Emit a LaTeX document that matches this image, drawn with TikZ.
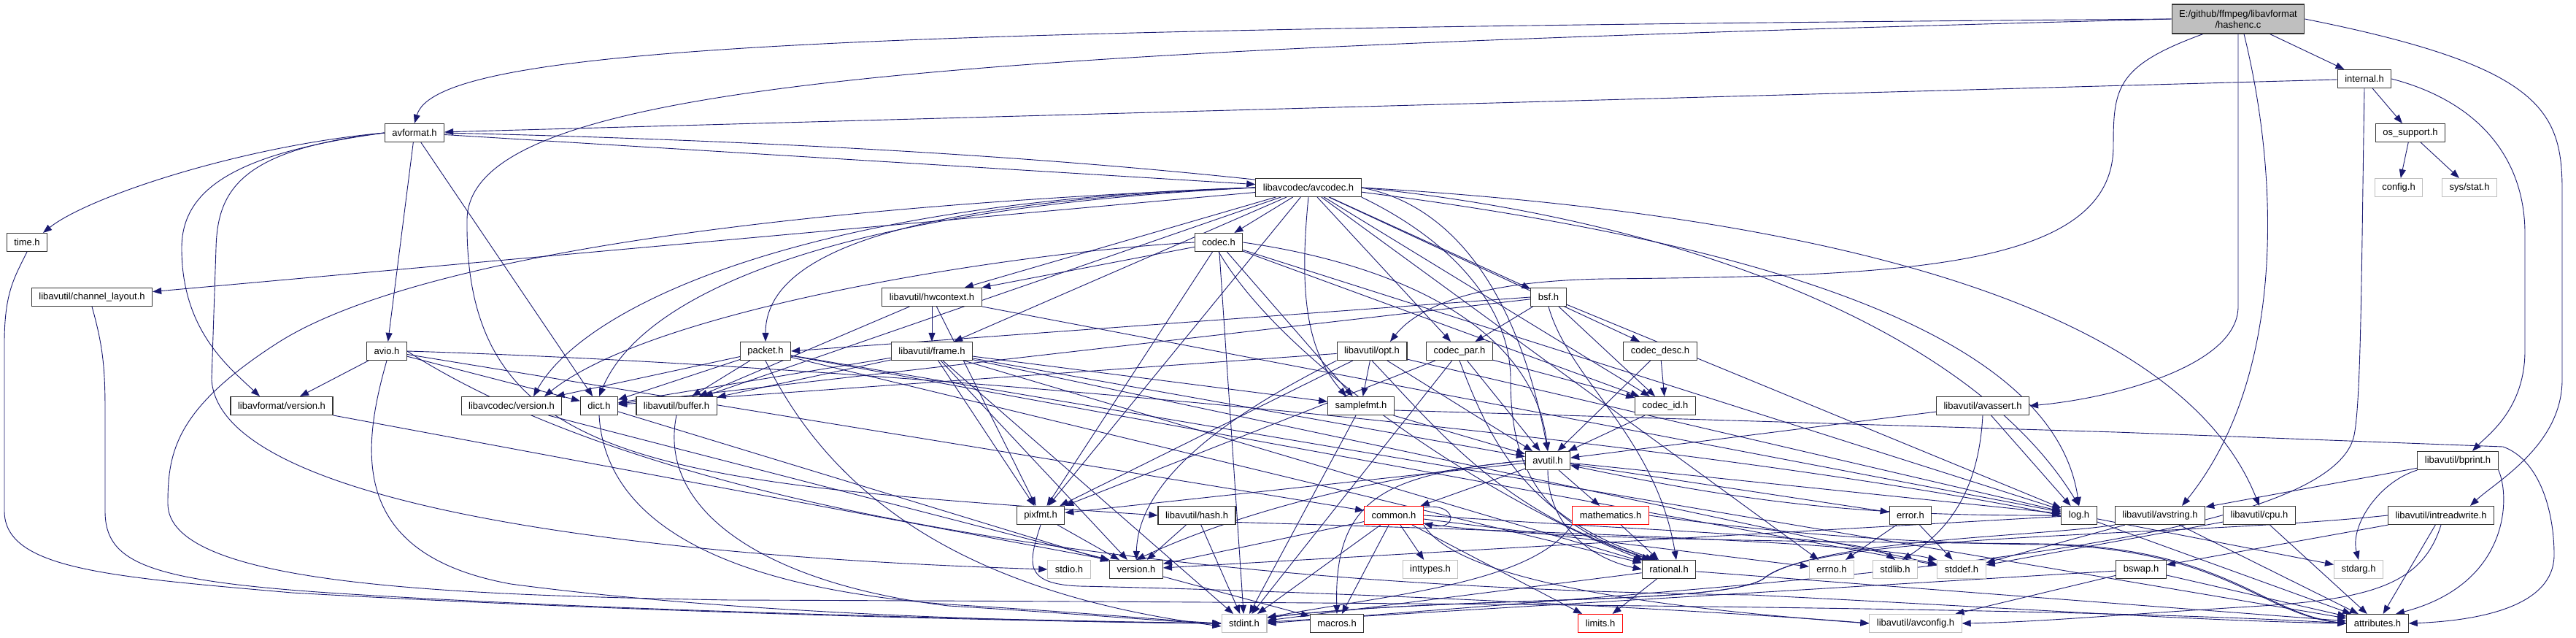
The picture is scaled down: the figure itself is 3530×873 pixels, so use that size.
\documentclass[tikz,border=0pt]{standalone}
\usepackage{fontspec}
\setmainfont{Liberation Sans}
\usetikzlibrary{arrows.meta}
\definecolor{edgeblue}{RGB}{25,25,112}
\definecolor{boxgray}{RGB}{191,191,191}
\pgfdeclarelayer{canvasbg}
\pgfdeclarelayer{edges}
\pgfsetlayers{canvasbg,edges,main}
\tikzset{
  hdr/.style={draw=black!80,fill=white,line width=1.1pt,minimum height=25pt,inner xsep=10pt,inner ysep=2pt,font=\fontsize{13}{15}\selectfont},
  syshdr/.style={hdr,draw=boxgray},
  cuthdr/.style={hdr,draw=red},
  srchdr/.style={hdr,fill=boxgray,align=center,minimum height=40pt},
  dep/.style={edgeblue,line width=0.9pt,-{Triangle[length=12pt,width=9pt]}},
}
\begin{document}
\begin{tikzpicture}[x=1pt,y=-1pt]
\begin{pgfonlayer}{canvasbg}
\path[use as bounding box,fill=white] (0,0) rectangle (3530,873);
\end{pgfonlayer}
\node[srchdr] at (3067,26) (hashenc) {E:/github/ffmpeg/libavformat\\/hashenc.c};
\node[hdr] at (568,182) (avformat) {avformat.h};
\node[hdr] at (3240,108) (internal) {internal.h};
\node[hdr] at (1793,257) (avcodec) {libavcodec/avcodec.h};
\node[hdr] at (3303,182) (ossupport) {os\_support.h};
\node[syshdr] at (3287,257) (config) {config.h};
\node[syshdr] at (3384,257) (sysstat) {sys/stat.h};
\node[hdr] at (37,332) (time) {time.h};
\node[hdr] at (1670,332) (codec) {codec.h};
\node[hdr] at (126,407) (chlayout) {libavutil/channel\_layout.h};
\node[hdr] at (1277,407) (hwcontext) {libavutil/hwcontext.h};
\node[hdr] at (2122,407) (bsf) {bsf.h};
\node[hdr] at (530,481) (avio) {avio.h};
\node[hdr] at (1049,481) (packet) {packet.h};
\node[hdr] at (1277,481) (frame) {libavutil/frame.h};
\node[hdr] at (1880,481) (opt) {libavutil/opt.h};
\node[hdr] at (2000,481) (codecpar) {codec\_par.h};
\node[hdr] at (2275,481) (codecdesc) {codec\_desc.h};
\node[hdr] at (386,556) (lavfversion) {libavformat/version.h};
\node[hdr] at (701,556) (lavcversion) {libavcodec/version.h};
\node[hdr] at (821,556) (dict) {dict.h};
\node[hdr] at (927,556) (buffer) {libavutil/buffer.h};
\node[hdr] at (1865,556) (samplefmt) {samplefmt.h};
\node[hdr] at (2282,556) (codecid) {codec\_id.h};
\node[hdr] at (2717,556) (avassert) {libavutil/avassert.h};
\node[hdr] at (2121,631) (avutil) {avutil.h};
\node[hdr] at (3368,631) (bprint) {libavutil/bprint.h};
\node[hdr] at (1426,706) (pixfmt) {pixfmt.h};
\node[hdr] at (1640,706) (hash) {libavutil/hash.h};
\node[cuthdr] at (1910,706) (common) {common.h};
\node[cuthdr] at (2207,706) (mathematics) {mathematics.h};
\node[hdr] at (2618,706) (error) {error.h};
\node[hdr] at (2849,706) (log) {log.h};
\node[hdr] at (2960,706) (avstring) {libavutil/avstring.h};
\node[hdr] at (3096,706) (cpu) {libavutil/cpu.h};
\node[hdr] at (3345,706) (intreadwrite) {libavutil/intreadwrite.h};
\node[syshdr] at (1465,780) (stdio) {stdio.h};
\node[hdr] at (1557,780) (version) {version.h};
\node[syshdr] at (1960,780) (inttypes) {inttypes.h};
\node[hdr] at (2287,780) (rational) {rational.h};
\node[syshdr] at (2510,780) (errno) {errno.h};
\node[syshdr] at (2597,780) (stdlib) {stdlib.h};
\node[syshdr] at (2688,780) (stddef) {stddef.h};
\node[hdr] at (2934,780) (bswap) {bswap.h};
\node[syshdr] at (3232,780) (stdarg) {stdarg.h};
\node[syshdr] at (1705,854) (stdint) {stdint.h};
\node[hdr] at (1832,854) (macros) {macros.h};
\node[cuthdr] at (2193,854) (limits) {limits.h};
\node[syshdr] at (2625,854) (avconfig) {libavutil/avconfig.h};
\node[hdr] at (3258,854) (attributes) {attributes.h};
\begin{pgfonlayer}{edges}
\draw[dep] (hashenc.west) .. controls (1200,40) and (600,60) .. (avformat.north);
\draw[dep] (hashenc.west) .. controls (1300,70) and (645,110) .. (640,300) .. controls (636,640) and (900,660) .. (hash.west);
\draw[dep] (hashenc) -- (internal);
\draw[dep] (hashenc.south) -- (3067,420) .. controls (3067,500) and (2900,545) .. (avassert.east);
\draw[dep] ([xshift=8pt]hashenc.south) .. controls (3125,250) and (3130,520) .. ([xshift=30pt]avstring.north);
\draw[dep] (hashenc.east) .. controls (3480,90) and (3511,150) .. (3511,260) -- (3511,520) .. controls (3511,610) and (3420,660) .. ([xshift=40pt]intreadwrite.north);
\draw[dep] ([xshift=-48pt]hashenc.south) .. controls (2900,90) and (2896,120) .. (2896,200) .. controls (2896,370) and (2600,378) .. (2200,382) .. controls (2000,385) and (1935,430) .. ([xshift=25pt]opt.north);
\draw[dep] (internal) -- (avformat);
\draw[dep] (internal) -- (ossupport);
\draw[dep] (internal.east) .. controls (3400,140) and (3460,220) .. (3460,320) -- (3460,480) .. controls (3460,560) and (3410,595) .. ([xshift=20pt]bprint.north);
\draw[dep] (internal.south) .. controls (3236,350) and (3236,560) .. (3225,600) .. controls (3180,760) and (2400,800) .. (stdint.east);
\draw[dep] (ossupport) -- (config);
\draw[dep] (ossupport) -- (sysstat);
\draw[dep] (avformat) -- (avcodec);
\draw[dep] (avformat.west) .. controls (330,200) and (120,270) .. ([xshift=22pt]time.north);
\draw[dep] (avformat.west) .. controls (330,205) and (298,260) .. (296,340) -- (290,520) .. controls (300,680) and (800,760) .. (stdio.west);
\draw[dep] (avformat.west) .. controls (320,210) and (249,260) .. (249,340) .. controls (249,450) and (310,500) .. ([xshift=-30pt]lavfversion.north);
\draw[dep] (avformat) -- (dict);
\draw[dep] (avformat) -- (avio);
\draw[dep] (avformat.east) .. controls (2000,215) and (2800,360) .. (log.north);
\draw[dep] (avcodec) -- (chlayout);
\draw[dep] (avcodec) -- (hwcontext);
\draw[dep] (avcodec) -- (codec);
\draw[dep] (avcodec.west) .. controls (1300,275) and (1049,330) .. (packet.north);
\draw[dep] (avcodec.west) .. controls (1100,275) and (800,420) .. ([xshift=30pt]lavcversion.north);
\draw[dep] (avcodec.west) .. controls (1150,285) and (880,400) .. (dict.north);
\draw[dep] (avcodec) -- (buffer);
\draw[dep] (avcodec) -- (frame);
\draw[dep] (avcodec) -- (pixfmt);
\draw[dep] (avcodec.south) .. controls (1780,400) and (1790,480) .. ([xshift=-20pt]samplefmt.north);
\draw[dep] (avcodec) -- (codecpar);
\draw[dep] (avcodec) -- (bsf);
\draw[dep] (avcodec) -- (codecdesc);
\draw[dep] (avcodec) -- (codecid);
\draw[dep] (avcodec.east) .. controls (1990,280) and (2080,400) .. (avutil.north);
\draw[dep] (avcodec.south east) .. controls (1990,330) and (2070,420) .. (2070,520) .. controls (2070,640) and (2110,720) .. ([xshift=-20pt]rational.north);
\draw[dep] (avcodec) -- (errno);
\draw[dep] (avcodec.east) .. controls (2300,300) and (2700,450) .. (log.north);
\draw[dep] (avcodec.east) .. controls (2600,300) and (3000,450) .. (cpu.north);
\draw[dep] (avcodec.west) .. controls (900,290) and (520,380) .. (380,470) .. controls (240,560) and (230,620) .. (230,690) .. controls (230,800) and (600,815) .. (1000,822) .. controls (2200,826) and (2900,835) .. (attributes.west);
\draw[dep] (codec) -- (hwcontext);
\draw[dep] (codec.west) .. controls (1400,345) and (900,420) .. ([xshift=45pt]lavcversion.north);
\draw[dep] (codec) -- (pixfmt);
\draw[dep] (codec) -- (samplefmt);
\draw[dep] (codec) -- (codecid);
\draw[dep] (codec.east) .. controls (1900,360) and (2100,440) .. (avutil.north);
\draw[dep] (codec.south) .. controls (1760,500) and (2050,690) .. ([xshift=-35pt]rational.north);
\draw[dep] (codec) -- (log);
\draw[dep] (codec) -- (stdint);
\draw[dep] (hwcontext) -- (frame);
\draw[dep] (hwcontext) -- (buffer);
\draw[dep] (hwcontext) -- (pixfmt);
\draw[dep] (hwcontext) -- (log);
\draw[dep] (bsf.west) -- (packet.east);
\draw[dep] (bsf) -- (dict);
\draw[dep] (bsf) -- (codecpar);
\draw[dep] (bsf) -- (codecid);
\draw[dep] (bsf.south) .. controls (2150,520) and (2270,600) .. ([xshift=10pt]rational.north);
\draw[dep] (bsf) -- (log);
\draw[dep] (avio) -- (lavfversion);
\draw[dep] (avio) -- (dict);
\draw[dep] (avio) -- (common);
\draw[dep] (avio.east) .. controls (1200,500) and (2300,600) .. (log.west);
\draw[dep] (avio.east) .. controls (900,700) and (1600,805) .. (2400,815) .. controls (2800,835) and (3000,850) .. (attributes.west);
\draw[dep] (avio.south) .. controls (494,620) and (480,760) .. (700,800) .. controls (1000,840) and (1400,852) .. (stdint.west);
\draw[dep] (lavfversion) -- (version.north west);
\draw[dep] (packet) -- (lavcversion);
\draw[dep] (packet) -- (dict);
\draw[dep] (packet) -- (buffer);
\draw[dep] (packet) -- (rational);
\draw[dep] (packet) -- (stddef);
\draw[dep] (packet.south) .. controls (1150,700) and (1350,815) .. ([yshift=-4pt]stdint.west);
\draw[dep] (packet) -- (attributes);
\draw[dep] (lavcversion) -- (version.north west);
\draw[dep] (dict) -- (version);
\draw[dep] (dict.south) .. controls (830,720) and (1000,805) .. (1300,828) .. controls (1500,840) and (1600,850) .. (stdint.west);
\draw[dep] (buffer.south) .. controls (900,700) and (1050,800) .. (1300,830) .. controls (1500,842) and (1600,852) .. (stdint.west);
\draw[dep] (frame) -- (dict);
\draw[dep] (frame) -- (buffer);
\draw[dep] (frame) -- (pixfmt);
\draw[dep] (frame) -- (samplefmt);
\draw[dep] (frame) -- (avutil);
\draw[dep] (frame) -- (rational);
\draw[dep] (frame) -- (version);
\draw[dep] (frame) -- (stddef);
\draw[dep] (frame) -- (stdint);
\draw[dep] (opt) -- (samplefmt);
\draw[dep] (opt) -- (dict);
\draw[dep] (opt) -- (pixfmt);
\draw[dep] (opt) -- (avutil);
\draw[dep] (opt.south) .. controls (1980,600) and (2060,700) .. ([xshift=-25pt]rational.north);
\draw[dep] (opt) -- (log);
\draw[dep] (opt.south west) .. controls (1700,560) and (1560,650) .. (version.north);
\draw[dep] (codecpar) -- (codecid);
\draw[dep] (codecpar) -- (avutil);
\draw[dep] (codecpar) -- (pixfmt);
\draw[dep] (codecpar.south) .. controls (2040,600) and (2090,710) .. ([xshift=-15pt]rational.north);
\draw[dep] (codecpar) -- (stdint);
\draw[dep] (codecdesc) -- (codecid);
\draw[dep] (codecdesc) -- (avutil);
\draw[dep] (samplefmt) -- (avutil);
\draw[dep] (samplefmt) -- (stdint);
\draw[dep] ([yshift=-6pt]samplefmt.east) -- (2900,592) -- (3430,612) .. controls (3480,630) and (3500,700) .. (3500,760) .. controls (3500,830) and (3400,850) .. (attributes.east);
\draw[dep] (codecid) -- (avutil);
\draw[dep] (avassert) -- (avutil);
\draw[dep] (avassert) -- (log);
\draw[dep] (avassert.south) .. controls (2712,660) and (2680,720) .. ([xshift=10pt]stdlib.north);
\draw[dep] (avutil) -- (common);
\draw[dep] (avutil) -- (mathematics);
\draw[dep] (avutil.south) .. controls (2121,720) and (2180,765) .. (rational.west);
\draw[dep] (avutil) -- (error);
\draw[dep] (avutil) -- (log);
\draw[dep] (avutil) -- (pixfmt);
\draw[dep] (avutil.west) .. controls (1900,650) and (1700,700) .. (version.north);
\draw[dep] (avutil.west) .. controls (1900,650) and (1828,680) .. (macros.north);
\draw[dep] (bprint) -- (avstring);
\draw[dep] (bprint.south west) .. controls (3260,660) and (3220,720) .. (stdarg.north);
\draw[dep] (bprint.south east) .. controls (3440,680) and (3440,800) .. ([xshift=25pt]attributes.north);
\draw[dep] (pixfmt) -- (version);
\draw[dep] (pixfmt.south) .. controls (1410,770) and (1400,800) .. (1480,803) .. controls (1900,812) and (2400,840) .. (avconfig.west);
\draw[dep] (hash) -- (version);
\draw[dep] (hash) -- (stdint);
\draw[dep] (hash.-10) .. controls (2200,730) and (2560,745) .. (stddef.north west);
\draw[dep] (common) -- (inttypes);
\draw[dep] (common) -- (macros);
\draw[dep] (common) -- (limits);
\draw[dep] (common) -- (version);
\draw[dep] (common) -- (stdint);
\draw[dep] (common) -- (errno);
\draw[dep] (common.east) .. controls (2300,730) and (2550,735) .. (stdlib.north);
\draw[dep] (common.-15) .. controls (2100,740) and (2500,742) .. (2800,745) .. controls (3050,750) and (3100,840) .. (attributes.west);
\draw[dep] (common.south east) .. controls (2000,800) and (2300,835) .. (avconfig.west);
\draw[dep] (common.15) .. controls (1998,688) and (1998,728) .. (common.-15);
\draw[dep] (mathematics) -- (rational);
\draw[dep] (mathematics.south west) .. controls (2100,800) and (1900,815) .. ([yshift=8pt]stdint.east);
\draw[dep] (mathematics.east) .. controls (2500,740) and (2700,745) .. (2800,746) .. controls (3050,752) and (3100,842) .. (attributes.west);
\draw[dep] (error) -- (errno);
\draw[dep] (error) -- (stddef);
\draw[dep] (log) to[bend left=6] (avutil);
\draw[dep] (log) -- (stdarg);
\draw[dep] (log) -- (attributes);
\draw[dep] (log) -- (version);
\draw[dep] (avstring) -- (stddef);
\draw[dep] (avstring.south west) .. controls (2800,735) and (2500,738) .. (2420,790) .. controls (2380,830) and (2000,815) .. ([yshift=8pt]stdint.east);
\draw[dep] (avstring) -- (attributes);
\draw[dep] (cpu) -- (stddef);
\draw[dep] (cpu) -- (attributes);
\draw[dep] (intreadwrite) -- (bswap);
\draw[dep] (intreadwrite.south) .. controls (3320,800) and (3250,820) .. (3100,830) .. controls (2900,842) and (2800,852) .. (avconfig.east);
\draw[dep] (intreadwrite) -- (attributes);
\draw[dep] (intreadwrite.west) .. controls (3000,735) and (2500,730) .. (2420,790) .. controls (2380,830) and (2000,815) .. ([yshift=8pt]stdint.east);
\draw[dep] (version) -- (macros);
\draw[dep] (rational) -- (limits);
\draw[dep] (rational) -- (attributes);
\draw[dep] (rational) -- (stdint);
\draw[dep] (bswap) -- (stdint);
\draw[dep] (bswap) -- (avconfig);
\draw[dep] (bswap) -- (attributes);
\draw[dep] (time.south) .. controls (20,380) and (6,400) .. (6,470) -- (6,700) .. controls (6,780) and (150,790) .. (400,812) .. controls (800,835) and (1300,850) .. (stdint.west);
\draw[dep] (chlayout.south) .. controls (140,470) and (144,500) .. (144,560) -- (144,700) .. controls (144,770) and (200,795) .. (450,812) .. controls (800,835) and (1300,848) .. (stdint.west);
\end{pgfonlayer}
\end{tikzpicture}
\end{document}
